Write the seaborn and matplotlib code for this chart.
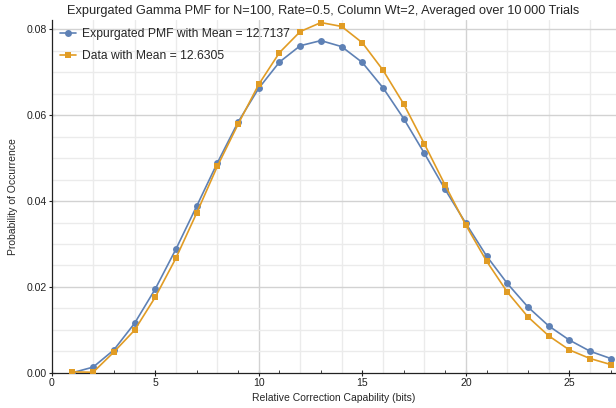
import numpy as np
import pandas as pd
import matplotlib
matplotlib.use("Agg")
import matplotlib.pyplot as plt
from matplotlib.ticker import MultipleLocator
import seaborn as sns

# Correction capability (bits)
bits = list(range(1, 28))

# Expurgated gamma PMF
pmf_values = [0.0000, 0.0013, 0.0053, 0.0115, 0.0195, 0.0288, 0.0388, 0.0489,
              0.0584, 0.0663, 0.0724, 0.0762, 0.0774, 0.0760, 0.0723, 0.0664,
              0.0592, 0.0511, 0.0427, 0.0348, 0.0272, 0.0208, 0.0153, 0.0109,
              0.0076, 0.0050, 0.0033]

# Simulated data averaged over trials
data_values = [0.0002, 0.0001, 0.0048, 0.0099, 0.0176, 0.0267, 0.0372, 0.0481,
               0.0579, 0.0672, 0.0746, 0.0795, 0.0816, 0.0807, 0.0769, 0.0705,
               0.0626, 0.0533, 0.0437, 0.0344, 0.0260, 0.0188, 0.0130, 0.0086,
               0.0053, 0.0033, 0.0019]

series_names = ["Expurgated PMF with Mean = 12.7137", "Data with Mean = 12.6305"]
title = "Expurgated Gamma PMF for N=100, Rate=0.5, Column Wt=2, Averaged over 10\u2009000 Trials"

df = pd.concat([
    pd.DataFrame({"bits": bits, "p": pmf_values, "series": series_names[0]}),
    pd.DataFrame({"bits": bits, "p": data_values, "series": series_names[1]}),
])

sns.set_style("white")
plt.rcParams["font.family"] = ["Liberation Sans", "DejaVu Sans"]

blue = (0.368417, 0.506779, 0.709798)
orange = (0.880722, 0.611041, 0.142051)

fig = plt.figure(figsize=(6.16, 4.08), dpi=100)
ax = fig.add_axes([0.0839, 0.0865, 0.9161, 0.8645])

sns.lineplot(data=df, x="bits", y="p", hue="series", style="series",
             palette={series_names[0]: blue, series_names[1]: orange},
             markers={series_names[0]: "o", series_names[1]: "s"},
             dashes=False, markersize=5, markeredgewidth=0, linewidth=1.2,
             ax=ax, zorder=3)

ax.set_xlim(0, 27.25)
ax.set_ylim(0, 0.0822)

# grid: light minor lines, slightly darker major lines
for xv in np.arange(2, 27, 2):
    c = "#d2d2d2" if xv % 10 == 0 else "#ebebeb"
    ax.axvline(xv, color=c, lw=1.0, zorder=1)
for yv in np.arange(0.005, 0.0821, 0.005):
    c = "#d2d2d2" if round(yv / 0.005) % 4 == 0 else "#ebebeb"
    ax.axhline(yv, color=c, lw=1.0, zorder=1)

ax.xaxis.set_major_locator(MultipleLocator(5))
ax.xaxis.set_minor_locator(MultipleLocator(1))
ax.yaxis.set_major_locator(MultipleLocator(0.02))
ax.yaxis.set_minor_locator(MultipleLocator(0.005))
ax.yaxis.set_major_formatter(matplotlib.ticker.FormatStrFormatter("%.2f"))
ax.tick_params(which="major", direction="inout", length=5, width=0.8, labelsize=7.6,
               pad=1, colors="#222222", bottom=True, left=True)
ax.tick_params(which="minor", direction="in", length=2.2, width=0.6,
               bottom=True, left=True, colors="#222222")

for side in ["top", "right"]:
    ax.spines[side].set_visible(False)
for side in ["left", "bottom"]:
    ax.spines[side].set_color("#222222")
    ax.spines[side].set_linewidth(0.9)

ax.set_xlabel("Relative Correction Capability (bits)", fontsize=7.5, labelpad=4)
ax.set_ylabel("Probability of Occurrence", fontsize=7.5, labelpad=6)
ax.set_title(title, fontsize=9.2, pad=4, x=0.481)

leg = ax.legend(loc="upper left", bbox_to_anchor=(0.0, 1.0), frameon=False,
                fontsize=8.7, labelspacing=0.85, handlelength=1.4,
                handletextpad=0.45, borderaxespad=0.25)

fig.savefig("out.png", dpi=100)
